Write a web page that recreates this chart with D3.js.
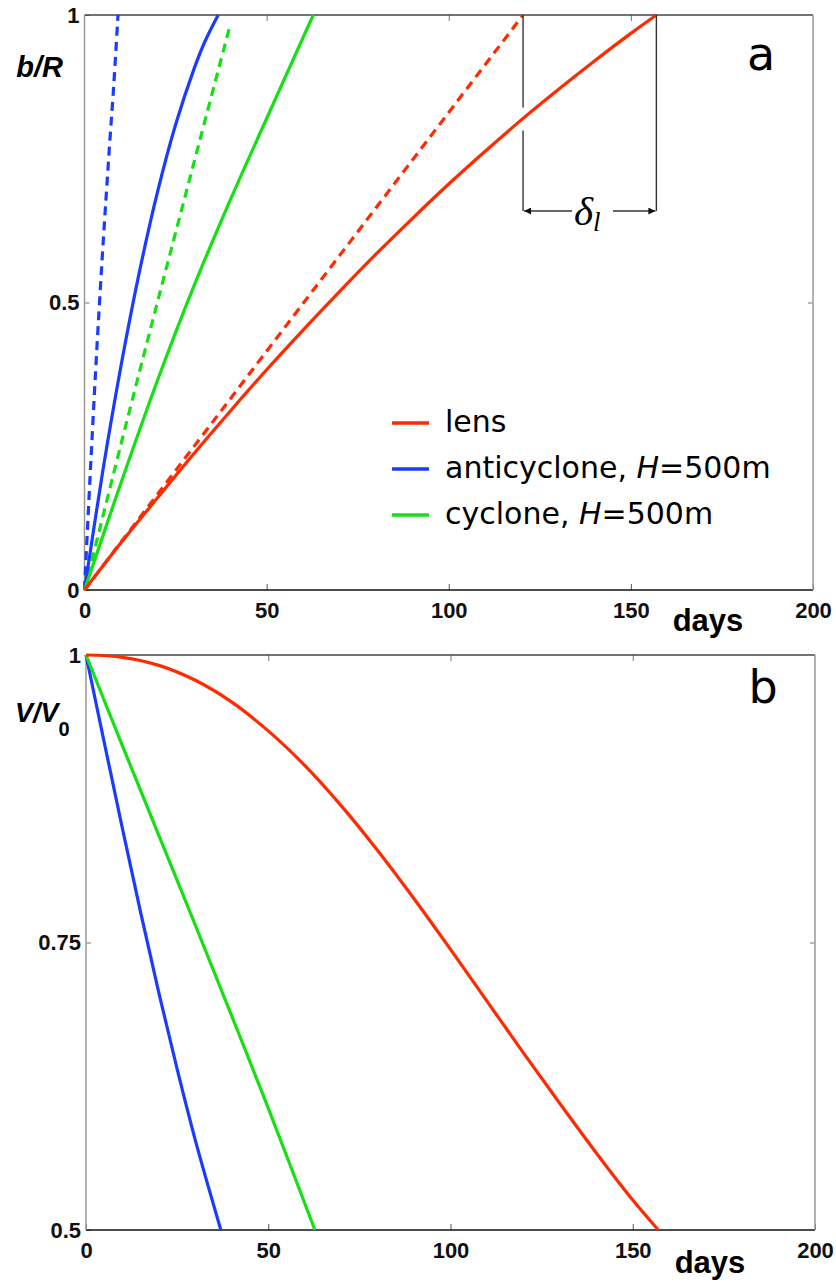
<!DOCTYPE html>
<html>
<head>
<meta charset="utf-8">
<script src="https://cdn.jsdelivr.net/npm/d3@7"></script>
<style>
  body { margin: 0; background: #fff; }
  svg { display: block; }
</style>
</head>
<body>
<svg id="chart" width="836" height="1285"></svg>
<script>
// ---- data ----
// panel a: b/R vs days
const lensDays   = [0, 10, 20, 30, 40, 50, 60, 70, 80, 90, 100, 110, 120, 130, 140, 150, 157];
const lensB      = [0, 0.082, 0.16, 0.237, 0.311, 0.383, 0.452, 0.519, 0.584, 0.646, 0.706, 0.763, 0.818, 0.87, 0.92, 0.968, 1];
const lensDashDays = [0, 120.4];
const lensDashB    = [0, 1];
const antiDays   = [0, 5, 10, 15, 20, 25, 30, 33, 36.7];
const antiB      = [0, 0.206, 0.389, 0.551, 0.691, 0.809, 0.905, 0.953, 1];
const antiDashDays = [0, 1, 2, 3, 4, 5, 6, 7, 8, 9.2];
const antiDashB    = [0, 0.13, 0.255, 0.375, 0.487, 0.592, 0.69, 0.785, 0.875, 1];
const cycDays    = [0, 10, 20, 30, 40, 50, 62.8];
const cycB       = [0, 0.186, 0.364, 0.528, 0.678, 0.82, 1];
const cycDashDays = [0, 10, 20, 30, 40];
const cycDashB    = [0, 0.253, 0.5, 0.742, 0.983];

// panel b: V/V0 vs days
const lensVDays = [0, 10, 20, 30, 40, 50, 60, 70, 80, 90, 100, 110, 120, 130, 140, 150, 157];
const lensV     = [1, 0.998, 0.991, 0.978, 0.959, 0.934, 0.904, 0.869, 0.83, 0.788, 0.744, 0.699, 0.654, 0.61, 0.567, 0.526, 0.5];
const antiVDays = [0, 5, 10, 15, 20, 25, 30, 37];
const antiV     = [1, 0.924, 0.849, 0.776, 0.706, 0.64, 0.578, 0.5];
const cycVDays  = [0, 10, 20, 30, 40, 50, 62.8];
const cycV      = [1, 0.921, 0.843, 0.765, 0.686, 0.606, 0.5];

const xTicks = [0, 50, 100, 150, 200];
const yTicksA = [0, 0.5, 1];
const yTicksB = [0.5, 0.75, 1];

const legendLabels = ["lens", "anticyclone", "cyclone"];
const deltaDays = [120.4, 157];

const RED = "#ff2a00", BLUE = "#1a3cff", GREEN = "#14e014";

const svg = d3.select("#chart");
const zip = (xs, ys) => xs.map((x, i) => [x, ys[i]]);

function styleTicks(a) {
  a.selectAll(".tick text")
    .attr("font-family", null).attr("font-size", null)
    .style("font-family", "'Liberation Sans', Arial, sans-serif")
    .style("font-weight", "bold").style("font-size", "22px").style("fill", "#111");
}

function panel(o) {
  const x = d3.scaleLinear().domain([0, 200]).range([o.left, o.right]);
  const y = d3.scaleLinear().domain(o.yDomain).range([o.bottom, o.top]);
  const g = svg.append("g");

  // ticks (inward), bottom and left with labels
  g.append("g").attr("transform", `translate(0,${o.bottom})`)
    .call(d3.axisBottom(x).tickValues(xTicks).tickSizeInner(-6).tickSizeOuter(0).tickPadding(12))
    .call(a => a.select(".domain").remove())
    .call(a => a.selectAll(".tick line").attr("stroke", "#555"))
    .call(styleTicks);
  g.append("g").attr("transform", `translate(0,${o.top})`)
    .call(d3.axisTop(x).tickValues(xTicks.slice(1, -1)).tickSizeInner(-6).tickSizeOuter(0).tickFormat(""))
    .call(a => a.select(".domain").remove())
    .call(a => a.selectAll(".tick line").attr("stroke", "#777"));
  g.append("g").attr("transform", `translate(${o.left},0)`)
    .call(d3.axisLeft(y).tickValues(o.yTicks).tickSizeInner(-5).tickSizeOuter(0).tickPadding(5).tickFormat(d3.format("")))
    .call(a => a.select(".domain").remove())
    .call(a => a.selectAll(".tick line").attr("stroke", "#777"))
    .call(styleTicks);
  g.append("g").attr("transform", `translate(${o.right},0)`)
    .call(d3.axisRight(y).tickValues(o.yTicks.slice(1, -1)).tickSizeInner(-5).tickSizeOuter(0).tickFormat(""))
    .call(a => a.select(".domain").remove())
    .call(a => a.selectAll(".tick line").attr("stroke", "#777"));

  // frame
  g.append("line").attr("x1", o.left).attr("x2", o.right).attr("y1", o.top).attr("y2", o.top)
    .attr("stroke", "#444").attr("stroke-width", 1.5);
  g.append("line").attr("x1", o.left).attr("x2", o.right).attr("y1", o.bottom).attr("y2", o.bottom)
    .attr("stroke", "#111").attr("stroke-width", 1.5);
  g.append("line").attr("x1", o.left).attr("x2", o.left).attr("y1", o.top).attr("y2", o.bottom)
    .attr("stroke", "#999").attr("stroke-width", 1.5);
  g.append("line").attr("x1", o.right).attr("x2", o.right).attr("y1", o.top).attr("y2", o.bottom)
    .attr("stroke", "#999").attr("stroke-width", 1.5);

  const line = d3.line().x(d => x(d[0])).y(d => y(d[1])).curve(d3.curveCatmullRom.alpha(0.5));
  o.series.forEach(s => {
    g.append("path").datum(s.data)
      .attr("d", line)
      .attr("fill", "none")
      .attr("stroke", s.color)
      .attr("stroke-width", 3.2)
      .attr("stroke-dasharray", s.dash ? "9,6" : null);
  });

  // x label
  g.append("text").attr("x", o.right - 105).attr("y", o.bottom + o.daysDy)
    .attr("text-anchor", "middle")
    .style("font-family", "'Liberation Sans', Arial, sans-serif")
    .style("font-weight", "bold").style("font-size", "31px")
    .text("days");

  // panel letter
  g.append("text").attr("x", o.right - 52).attr("y", o.top + o.letterDy)
    .attr("text-anchor", "middle")
    .style("font-family", "'DejaVu Sans', sans-serif")
    .style("font-size", "46px")
    .text(o.letter);

  return { g, x, y };
}

// ---- panel a ----
const A = panel({
  left: 84.5, right: 813, top: 15, bottom: 590,
  yDomain: [0, 1], yTicks: yTicksA, letter: "a", letterDy: 55, daysDy: 41,
  series: [
    { data: zip(antiDashDays, antiDashB), color: BLUE, dash: true },
    { data: zip(cycDashDays, cycDashB), color: GREEN, dash: true },
    { data: zip(lensDashDays, lensDashB), color: RED, dash: true },
    { data: zip(antiDays, antiB), color: BLUE },
    { data: zip(cycDays, cycB), color: GREEN },
    { data: zip(lensDays, lensB), color: RED }
  ]
});

A.g.append("text").attr("x", 63).attr("y", 77).attr("text-anchor", "end")
  .style("font-family", "'Liberation Sans', Arial, sans-serif")
  .style("font-weight", "bold").style("font-style", "italic").style("font-size", "29px")
  .text("b/R");

// delta annotation
const xl = A.x(deltaDays[0]), xr = A.x(deltaDays[1]);
const yArrow = 211;
const redAtLeft = A.y(0.82);
[[15, redAtLeft - 11], [redAtLeft + 12, yArrow]].forEach(seg => {
  A.g.append("line").attr("x1", xl).attr("x2", xl).attr("y1", seg[0]).attr("y2", seg[1])
    .attr("stroke", "#333").attr("stroke-width", 1.4);
});
A.g.append("line").attr("x1", xr).attr("x2", xr).attr("y1", 15).attr("y2", yArrow)
  .attr("stroke", "#333").attr("stroke-width", 1.4);
const defs = svg.append("defs");
defs.append("marker").attr("id", "arr").attr("viewBox", "0 0 10 10")
  .attr("refX", 10).attr("refY", 5).attr("markerWidth", 9).attr("markerHeight", 7)
  .attr("markerUnits", "userSpaceOnUse").attr("orient", "auto")
  .append("path").attr("d", "M0,0L10,5L0,10z").attr("fill", "#111");
A.g.append("line").attr("x1", 572).attr("x2", xl + 1).attr("y1", yArrow).attr("y2", yArrow)
  .attr("stroke", "#333").attr("stroke-width", 1.4).attr("marker-end", "url(#arr)");
A.g.append("line").attr("x1", 613).attr("x2", xr - 1).attr("y1", yArrow).attr("y2", yArrow)
  .attr("stroke", "#333").attr("stroke-width", 1.4).attr("marker-end", "url(#arr)");
const dt = A.g.append("text").attr("x", 574).attr("y", 225)
  .style("font-family", "'Liberation Serif', 'DejaVu Serif', serif")
  .style("font-style", "italic").style("font-size", "41px").text("δ");
dt.append("tspan").attr("dy", 6).style("font-size", "27px").text("l");

// legend
const legColors = [RED, BLUE, GREEN];
const legY = [423, 469, 515];
legendLabels.forEach((lab, i) => {
  A.g.append("line").attr("x1", 392).attr("x2", 429).attr("y1", legY[i]).attr("y2", legY[i])
    .attr("stroke", legColors[i]).attr("stroke-width", 3.5);
  const t = A.g.append("text").attr("x", 445).attr("y", legY[i] + 9)
    .style("font-family", "'DejaVu Sans', sans-serif").style("font-size", "30px")
    .text(i === 0 ? lab : lab + ", ");
  if (i > 0) {
    t.append("tspan").style("font-style", "italic").text("H");
    t.append("tspan").text("=500m");
  }
});

// ---- panel b ----
const B = panel({
  left: 86, right: 815, top: 655, bottom: 1230,
  yDomain: [0.5, 1], yTicks: yTicksB, letter: "b", letterDy: 48, daysDy: 43,
  series: [
    { data: zip(antiVDays, antiV), color: BLUE },
    { data: zip(cycVDays, cycV), color: GREEN },
    { data: zip(lensVDays, lensV), color: RED }
  ]
});

const vt = B.g.append("text").attr("x", 15).attr("y", 722)
  .style("font-family", "'Liberation Sans', Arial, sans-serif")
  .style("font-weight", "bold").style("font-style", "italic").style("font-size", "27px")
  .text("V/V");
vt.append("tspan").attr("dy", 14).style("font-style", "normal").style("font-size", "20px").text("0");
</script>
</body>
</html>
